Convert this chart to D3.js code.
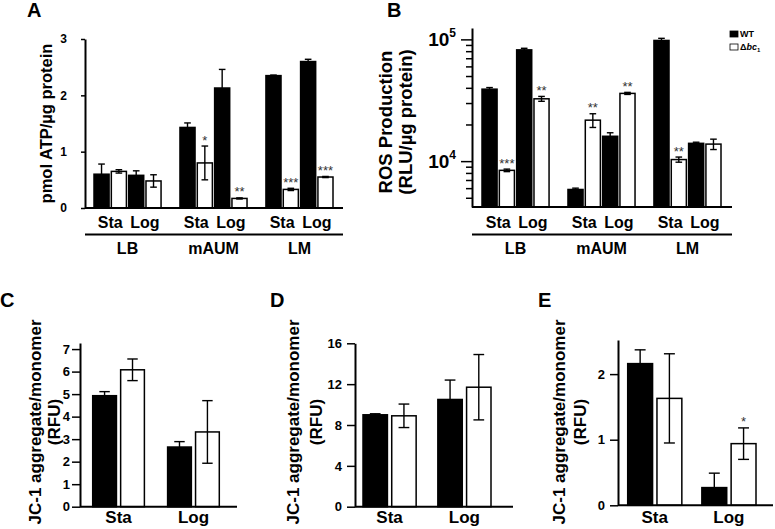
<!DOCTYPE html>
<html>
<head>
<meta charset="utf-8">
<script src="https://cdn.jsdelivr.net/npm/d3@7"></script>
<style>
  body { margin: 0; background: #fff; }
  svg text { font-family: "Liberation Sans", Arial, sans-serif; font-weight: bold; fill: #000; }
</style>
</head>
<body>
<svg id="fig" width="775" height="529"></svg>
<script>
// ---- data ----
var media = ["LB", "mAUM", "LM"];
var phases = ["Sta", "Log"];
var strains = ["WT", "Δbc1"];

// A: ATP, order LB Sta, LB Log, mAUM Sta, mAUM Log, LM Sta, LM Log
var atpWT = [0.60, 0.58, 1.43, 2.13, 2.35, 2.60];
var atpWTErr = [0.18, 0.08, 0.08, 0.33, 0.01, 0.04];
var atpMut = [0.65, 0.48, 0.80, 0.17, 0.33, 0.55];
var atpMutErr = [0.03, 0.11, 0.30, 0.01, 0.02, 0.01];
var atpStars = ["", "", "*", "**", "***", "***"];
var atpTicks = [0, 1, 2, 3];

// B: ROS (RLU/ug protein), same order
var rosWT = [39000, 82000, 5850, 16000, 98000, 14000];
var rosWTErr = [1200, 2500, 150, 1100, 4000, 300];
var rosMut = [8400, 32500, 21700, 36000, 10300, 13800];
var rosMutErr = [200, 1500, 2800, 700, 500, 1350];
var rosStars = ["***", "**", "**", "**", "**", ""];
var rosMajor = [1e4, 1e5];
var rosMinor = [5000, 6000, 7000, 8000, 9000, 20000, 30000, 40000, 50000, 60000, 70000, 80000, 90000];

// C, D, E: JC-1 aggregate/monomer, order Sta, Log
var jcCWT = [4.93, 2.65], jcCWTErr = [0.18, 0.24];
var jcCMut = [6.08, 3.32], jcCMutErr = [0.48, 1.39];
var jcCTicks = [0, 1, 2, 3, 4, 5, 6, 7];

var jcDWT = [9.0, 10.5], jcDWTErr = [0.1, 1.9];
var jcDMut = [8.9, 11.7], jcDMutErr = [1.15, 3.2];
var jcDTicks = [0, 4, 8, 12, 16];

var jcEWT = [2.16, 0.27], jcEWTErr = [0.21, 0.22];
var jcEMut = [1.63, 0.94], jcEMutErr = [0.68, 0.24];
var jcEStars = ["", "*"];
var jcETicks = [0, 1, 2];

var svg = d3.select("#fig");

// build rows: one per bar, sub = slot inside its group
function mediaRows(wt, wtErr, mut, mutErr, stars) {
  var rows = [];
  media.forEach(function(m, gi) {
    phases.forEach(function(p, pi) {
      var k = gi * 2 + pi;
      rows.push({group: m, sub: pi * 2, strain: 0, value: wt[k], err: wtErr[k], star: ""});
      rows.push({group: m, sub: pi * 2 + 1, strain: 1, value: mut[k], err: mutErr[k], star: stars[k]});
    });
  });
  return rows;
}
function phaseRows(wt, wtErr, mut, mutErr, stars) {
  var rows = [];
  phases.forEach(function(p, pi) {
    rows.push({group: p, sub: 0, strain: 0, value: wt[pi], err: wtErr[pi], star: ""});
    rows.push({group: p, sub: 1, strain: 1, value: mut[pi], err: mutErr[pi], star: stars ? stars[pi] : ""});
  });
  return rows;
}

function drawBars(g, rows, x, xi, y) {
  var base = y.range()[0];
  var bw = xi.bandwidth();
  var cap = bw * 0.22;
  g.selectAll("rect.bar").data(rows).join("rect")
    .attr("class", "bar")
    .attr("x", function(d) { return x(d.group) + xi(d.sub); })
    .attr("y", function(d) { return y(d.value); })
    .attr("width", bw)
    .attr("height", function(d) { return base - y(d.value); })
    .attr("fill", function(d) { return d.strain === 0 ? "#000" : "#fff"; })
    .attr("stroke", "#000")
    .attr("stroke-width", 1.5);

  // error bars
  var eb = g.selectAll("g.err").data(rows).join("g").attr("class", "err")
    .attr("transform", function(d) { return "translate(" + (x(d.group) + xi(d.sub) + bw / 2) + ",0)"; });
  eb.append("line")
    .attr("y1", function(d) { return y(d.value - d.err); })
    .attr("y2", function(d) { return y(d.value + d.err); });
  eb.append("line").attr("x1", -cap).attr("x2", cap)
    .attr("y1", function(d) { return y(d.value + d.err); })
    .attr("y2", function(d) { return y(d.value + d.err); });
  eb.append("line").attr("x1", -cap).attr("x2", cap)
    .attr("y1", function(d) { return y(d.value - d.err); })
    .attr("y2", function(d) { return y(d.value - d.err); });
  eb.selectAll("line").attr("stroke", "#000").attr("stroke-width", 1.4);

  // significance stars
  eb.filter(function(d) { return d.star; }).append("text")
    .attr("text-anchor", "middle")
    .attr("y", function(d) { return y(d.value + d.err) - 1.5; })
    .style("font-weight", "normal")
    .style("font-size", "13px")
    .style("fill", "#333")
    .text(function(d) { return d.star; });
}

function yAxis(g, y, ticks, size, pad, fs) {
  var ax = g.call(d3.axisLeft(y).tickValues(ticks).tickFormat(d3.format("d"))
    .tickSize(size).tickPadding(pad).tickSizeOuter(0));
  ax.attr("font-family", null).attr("font-size", null);
  ax.select(".domain").attr("stroke-width", 2);
  ax.selectAll(".tick line").attr("stroke-width", 1.5);
  ax.selectAll(".tick text").style("font-size", fs + "px");
  return ax;
}

function baseLine(g, x0, x1, yv) {
  g.append("line").attr("x1", x0).attr("x2", x1).attr("y1", yv).attr("y2", yv)
    .attr("stroke", "#000").attr("stroke-width", 2);
}

function yLabel(g, lines, xs, yc, fs) {
  lines.forEach(function(t, i) {
    g.append("text")
      .attr("transform", "translate(" + xs[i] + "," + yc + ") rotate(-90)")
      .attr("text-anchor", "middle")
      .style("font-size", fs + "px")
      .text(t);
  });
}

function letter(t, xv, yv) {
  svg.append("text").attr("x", xv).attr("y", yv).style("font-size", "20px").text(t);
}

// labels under media panels (Sta/Log, underline, medium)
function mediaLabels(g, x, xi, axisX, endX) {
  var bw = xi.bandwidth();
  media.forEach(function(m) {
    phases.forEach(function(p, pi) {
      var cx = x(m) + (xi(pi * 2) + xi(pi * 2 + 1) + bw) / 2;
      g.append("text").attr("x", cx).attr("y", 228).attr("text-anchor", "middle")
        .style("font-size", "16px").text(p);
    });
    g.append("text").attr("x", x(m) + x.bandwidth() / 2).attr("y", 254).attr("text-anchor", "middle")
      .style("font-size", "16px").text(m);
  });
  baseLine(g, axisX, endX, 234.5);
}

// ---- Panel A ----
var gA = svg.append("g");
var yA = d3.scaleLinear().domain([0, 3]).range([208, 39]);
var xA = d3.scaleBand().domain(media).range([94, 333]).paddingInner(0.22);
var xiA = d3.scaleBand().domain([0, 1, 2, 3]).range([0, xA.bandwidth()]).paddingInner(0.13);
drawBars(gA, mediaRows(atpWT, atpWTErr, atpMut, atpMutErr, atpStars), xA, xiA, yA);
baseLine(gA, 85, 343, 208);
yAxis(gA.append("g").attr("transform", "translate(85,0)"), yA, atpTicks, 4, 14, 12);
mediaLabels(gA, xA, xiA, 85, 343);
yLabel(gA, ["pmol ATP/µg protein"], [52], 123.5, 16.5);
letter("A", 27, 17);

// ---- Panel B ----
var gB = svg.append("g");
var yB = d3.scaleLog().domain([4200, 124000]).range([207, 28]);
var xB = d3.scaleBand().domain(media).range([482, 721]).paddingInner(0.22);
var xiB = d3.scaleBand().domain([0, 1, 2, 3]).range([0, xB.bandwidth()]).paddingInner(0.13);
drawBars(gB, mediaRows(rosWT, rosWTErr, rosMut, rosMutErr, rosStars), xB, xiB, yB);
baseLine(gB, 472, 732, 207);
var axB = gB.append("g").attr("transform", "translate(472,0)");
axB.call(d3.axisLeft(yB).tickValues(rosMinor.concat(rosMajor)).tickSize(6).tickFormat("").tickSizeOuter(0));
axB.select(".domain").attr("stroke-width", 2);
axB.selectAll(".tick line").attr("stroke-width", 1.5)
  .attr("x2", function(d) { return rosMajor.indexOf(d) >= 0 ? -11 : -6; });
rosMajor.forEach(function(v) {
  var t = axB.append("text").attr("x", -16).attr("y", yB(v) + 7).attr("text-anchor", "end")
    .style("font-size", "19px");
  t.append("tspan").text("10");
  t.append("tspan").attr("dy", -9).style("font-size", "12px").text(Math.round(Math.log10(v)));
});
mediaLabels(gB, xB, xiB, 472, 732);
yLabel(gB, ["ROS Production", "(RLU/µg protein)"], [392, 412], 122, 18.5);
letter("B", 387, 17);

// legend
var leg = svg.append("g").attr("transform", "translate(730,31)");
strains.forEach(function(s, i) {
  var row = leg.append("g").attr("transform", "translate(0," + i * 13 + ")");
  row.append("rect").attr("width", 8).attr("height", 6)
    .attr("fill", i === 0 ? "#000" : "#fff").attr("stroke", "#000").attr("stroke-width", 0.8);
  var t = row.append("text").attr("x", 10).attr("y", 6).style("font-size", "9px");
  if (i === 0) {
    t.text(s);
  } else {
    t.append("tspan").text("Δ");
    t.append("tspan").style("font-style", "italic").text("bc");
    t.append("tspan").attr("dy", 2).style("font-size", "6px").text("1");
  }
});

// ---- Panels C, D, E ----
function jcPanel(cfg) {
  var g = svg.append("g");
  var x = d3.scaleBand().domain(phases).range(cfg.xr).paddingInner(cfg.pi);
  var xi = d3.scaleBand().domain([0, 1]).range([0, x.bandwidth()]).paddingInner(0.15);
  drawBars(g, cfg.rows, x, xi, cfg.y);
  baseLine(g, cfg.axisX, cfg.endX, cfg.y.range()[0]);
  yAxis(g.append("g").attr("transform", "translate(" + cfg.axisX + ",0)"), cfg.y, cfg.ticks, 8, cfg.pad, 13);
  phases.forEach(function(p) {
    g.append("text").attr("x", x(p) + x.bandwidth() / 2).attr("y", 523).attr("text-anchor", "middle")
      .style("font-size", "17px").text(p);
  });
  yLabel(g, ["JC-1 aggregate/monomer", "(RFU)"], cfg.labX, 422, 17);
  letter(cfg.letter, cfg.letterX, 307);
}

jcPanel({
  rows: phaseRows(jcCWT, jcCWTErr, jcCMut, jcCMutErr),
  y: d3.scaleLinear().domain([0, 7.27]).range([506.7, 343]),
  ticks: jcCTicks, xr: [92.7, 219.3], pi: 0.31, axisX: 80, endX: 237, pad: 2,
  labX: [41, 60], letter: "C", letterX: 0
});
jcPanel({
  rows: phaseRows(jcDWT, jcDWTErr, jcDMut, jcDMutErr),
  y: d3.scaleLinear().domain([0, 16]).range([506.7, 343.3]),
  ticks: jcDTicks, xr: [363, 491], pi: 0.29, axisX: 355, endX: 513, pad: 5,
  labX: [299, 322], letter: "D", letterX: 270
});
jcPanel({
  rows: phaseRows(jcEWT, jcEWTErr, jcEMut, jcEMutErr, jcEStars),
  y: d3.scaleLinear().domain([0, 2.52]).range([505.3, 340]),
  ticks: jcETicks, xr: [627.7, 756], pi: 0.27, axisX: 618, endX: 773, pad: 5,
  labX: [565, 586], letter: "E", letterX: 538
});
</script>
</body>
</html>
